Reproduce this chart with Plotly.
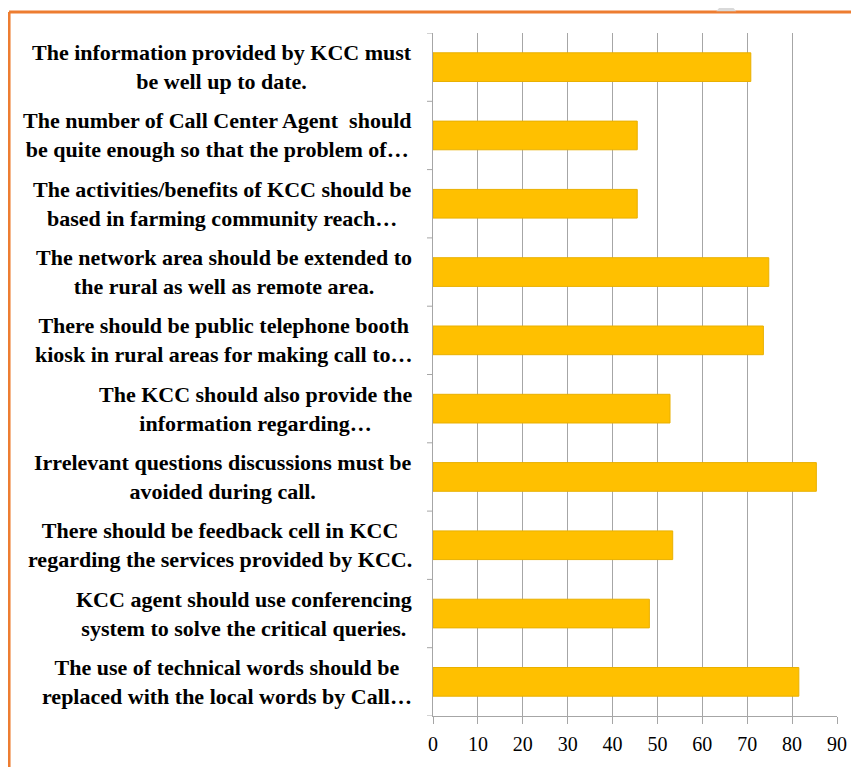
import plotly.graph_objects as go

categories = [
    "The information provided by KCC must<br>be well up to date.",
    "The number of Call Center Agent  should<br>be quite enough so that the problem of…",
    "The activities/benefits of KCC should be<br>based in farming community reach…",
    "The network area should be extended to<br>the rural as well as remote area.",
    "There should be public telephone booth<br>kiosk in rural areas for making call to…",
    "The KCC should also provide the<br>information regarding…",
    "Irrelevant questions discussions must be<br>avoided during call.",
    "There should be feedback cell in KCC<br>regarding the services provided by KCC.",
    "KCC agent should use conferencing<br>system to solve the critical queries.",
    "The use of technical words should be<br>replaced with the local words by Call…",
]
values = [70.8, 45.5, 45.5, 74.8, 73.6, 52.8, 85.4, 53.4, 48.2, 81.5]
ticks = [0, 10, 20, 30, 40, 50, 60, 70, 80, 90]

FONT = "Times New Roman, Liberation Serif, serif"

W, H = 851, 759
ML, MR, MT, MB = 425, 21, 25, 47
pw = W - ML - MR
ph = H - MT - MB


def px(sx):
    return (sx - 8 - ML) / pw


def py(sy):
    return (H - MB - (sy - 8)) / ph


fig = go.Figure()
fig.add_trace(go.Bar(
    y=list(range(len(categories))), x=values, orientation="h",
    marker=dict(color="#FFC000", line=dict(color="#E9B000", width=1)),
    width=0.42,
))

for i, c in enumerate(categories):
    fig.add_annotation(
        x=px(414), xref="paper", y=i, yref="y",
        text="<b>" + c + "</b>", showarrow=False,
        xanchor="right", yanchor="middle", align="center",
        font=dict(family=FONT, size=22, color="black"),
    )

# orange frame
fig.add_shape(type="line", xref="paper", yref="paper", x0=px(8), x1=px(880),
              y0=py(12), y1=py(12), line=dict(color="#ED7D31", width=3))
fig.add_shape(type="line", xref="paper", yref="paper", x0=px(8), x1=px(8),
              y0=py(12), y1=py(790), line=dict(color="#ED7D31", width=3))
# small grey tab above frame
fig.add_shape(type="path", xref="paper", yref="paper",
              path=f"M {px(717)},{py(11)} L {px(724)},{py(3)} Q {px(727)},{py(0)} {px(730)},{py(3)} L {px(737)},{py(11)} Z",
              fillcolor="#D9D9D9", line=dict(width=0), layer="above")

fig.update_layout(
    width=W, height=H,
    margin=dict(l=ML, r=MR, t=MT, b=MB),
    plot_bgcolor="white", paper_bgcolor="white",
    showlegend=False,
    xaxis=dict(range=[0, 90], tickvals=ticks, ticktext=[str(t) for t in ticks],
               showgrid=True, gridcolor="#A6A6A6", gridwidth=1,
               showline=True, linecolor="#A6A6A6", linewidth=1,
               ticks="outside", ticklen=7, tickcolor="#A6A6A6",
               ticklabelstandoff=3,
               tickfont=dict(family=FONT, size=20, color="black"),
               zeroline=False, fixedrange=True),
    yaxis=dict(range=[len(categories) - 0.5, -0.5], tickvals=list(range(len(categories))),
               showticklabels=False, showgrid=False,
               showline=True, linecolor="#A6A6A6", linewidth=1,
               zeroline=False),
)

for k in range(len(categories) + 1):
    fig.add_shape(type="line", xref="paper", yref="y", x0=-6 / pw, x1=0,
                  y0=k - 0.5, y1=k - 0.5, line=dict(color="#A6A6A6", width=1))

fig.write_html("out.html")
